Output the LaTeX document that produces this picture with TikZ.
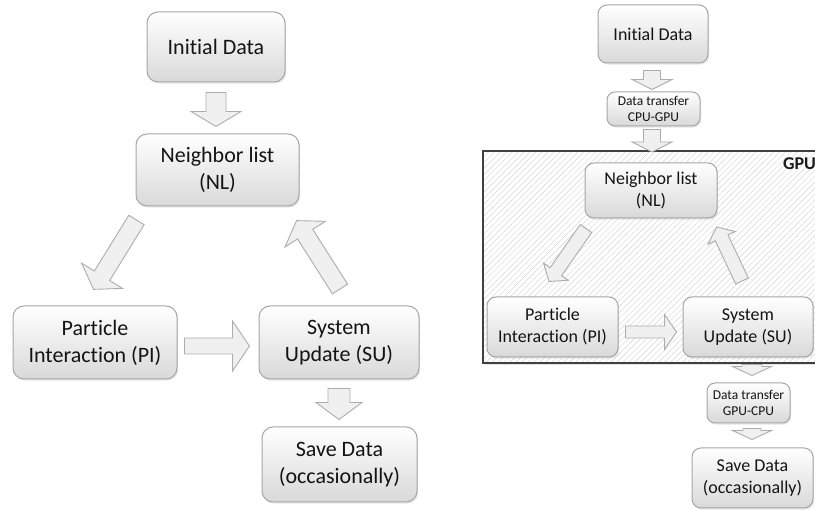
\documentclass[tikz,border=0pt]{standalone}
\usepackage{fontspec}
\setmainfont{Carlito}[Ligatures={NoCommon}]
\usetikzlibrary{calc,shadows,patterns.meta}

\tikzset{
  flowbox/.style={draw=gray!70, line width=1pt, rounded corners=11pt,
    top color=white, bottom color=gray!30, text=black!92, align=center,
    inner sep=0pt,
    drop shadow={shadow xshift=1.2pt, shadow yshift=-1.6pt, opacity=0.2}},
  bigtext/.style={font=\fontsize{22}{27}\selectfont},
  midtext/.style={font=\fontsize{18}{22}\selectfont, rounded corners=9pt},
  smalltext/.style={font=\fontsize{13.5}{16.5}\selectfont, rounded corners=8pt},
  blockarrow/.style={draw=gray!65, fill=gray!12, line width=0.9pt, line join=miter},
  gpubox/.style={fill=white, inner sep=0pt,
    drop shadow={shadow xshift=1.5pt, shadow yshift=-2pt, opacity=0.2},
    postaction={pattern={Lines[angle=45,distance=4.2pt,line width=0.45pt]},
                pattern color=gray!32},
    postaction={draw=black!75, line width=2pt}},
  gpulabel/.style={font=\fontsize{18}{22}\selectfont\bfseries, text=black!90,
    anchor=base west, inner sep=0pt},
}

% Block arrow from #1 to #2: shaft half-width #3, head half-width #4,
% head length #5 (all in pt)
\newcommand{\flowarrow}[5]{%
  \draw[blockarrow] let \p1=(#1), \p2=(#2),
      \n1={atan2((\y2)-(\y1),(\x2)-(\x1))},
      \n2={veclen((\x2)-(\x1),(\y2)-(\y1))} in
    [shift={(\p1)}, rotate=\n1]
    (0pt,{-#3*1pt}) -- ({(\n2-#5)*1pt},{-#3*1pt}) -- ({(\n2-#5)*1pt},{-#4*1pt})
    -- ({\n2*1pt},0pt) -- ({(\n2-#5)*1pt},{#4*1pt}) -- ({(\n2-#5)*1pt},{#3*1pt})
    -- (0pt,{#3*1pt}) -- cycle;}

\begin{document}
\begin{tikzpicture}[x=1pt,y=-1pt]
\useasboundingbox (0,0) rectangle (815,510);

% ---------- CPU-only loop ----------
\node[flowbox, bigtext, minimum width=138pt, minimum height=70pt] (init) at (216,47) {Initial Data};
\node[flowbox, bigtext, minimum width=163pt, minimum height=72pt] (nl) at (217.5,170) {Neighbor list\\(NL)};
\node[flowbox, bigtext, minimum width=164pt, minimum height=73pt] (pi) at (95,342.5) {Particle\\Interaction (PI)};
\node[flowbox, bigtext, minimum width=160pt, minimum height=73pt] (su) at (339,342.5) {System\\Update (SU)};
\node[flowbox, bigtext, minimum width=155pt, minimum height=75pt] (save) at (339.5,464.5) {Save Data\\(occasionally)};

\flowarrow{$(init.south)+(0,10)$}{$(nl.north)+(-1.5,-7)$}{10}{25}{15}
\flowarrow{$(nl.south west)+(1,13.5)$}{$(pi.north)+(-1.5,-16)$}{9}{24}{16}
\flowarrow{$(su.north)+(1,-16.5)$}{$(nl.south east)+(-3,14)$}{9}{24}{16}
\flowarrow{$(pi.east)+(7,3.5)$}{$(su.west)+(-9,3.5)$}{8}{25}{17}
\flowarrow{$(su.south)+(0,9)$}{$(save.north)+(-0.5,-7)$}{11}{23}{17}

% ---------- GPU version ----------
\node[gpubox, minimum width=345pt, minimum height=212pt, anchor=north west] (gpu) at (483,151) {};
\node[gpulabel] (gputxt) at (783,170) {GPU};

\node[flowbox, midtext, minimum width=110pt, minimum height=58pt] (init2) at (653,34) {Initial Data};
\node[flowbox, smalltext, minimum width=93pt, minimum height=34pt] (cg) at (653.5,109) {Data transfer\\CPU-GPU};
\node[flowbox, midtext, minimum width=132pt, minimum height=55pt] (nl2) at (651,190.5) {Neighbor list\\(NL)};
\node[flowbox, midtext, minimum width=131pt, minimum height=60pt] (pi2) at (552.5,327) {Particle\\Interaction (PI)};
\node[flowbox, midtext, minimum width=130pt, minimum height=60pt] (su2) at (748,327) {System\\Update (SU)};
\node[flowbox, smalltext, minimum width=83pt, minimum height=40pt] (gc) at (748.5,403) {Data transfer\\GPU-CPU};
\node[flowbox, midtext, minimum width=121pt, minimum height=60pt] (save2) at (752.5,478) {Save Data\\(occasionally)};

\flowarrow{$(init2.south)+(-1,7)$}{$(cg.north)+(-1.5,-2)$}{8.5}{20}{10}
\flowarrow{$(cg.south)+(-1.5,3)$}{$(cg.south |- gpu.north)+(-1.5,1)$}{8.5}{20}{10}
\flowarrow{$(nl2.south west)+(1.5,10)$}{$(pi2.north)+(-3.5,-15)$}{7}{15}{12}
\flowarrow{$(su2.north)+(-6,-15.5)$}{$(nl2.south east)+(-1,8.5)$}{7}{15}{12}
\flowarrow{$(pi2.east)+(7,5)$}{$(su2.west)+(-6,5)$}{6}{17.5}{12}
\flowarrow{$(su2.south)+(4,7)$}{$(gc.north)+(3.5,-7)$}{10}{19.5}{9}
\flowarrow{$(gc.south)+(3.5,5)$}{$(save2.north)+(-0.5,-8)$}{9}{19.5}{9}
\end{tikzpicture}
\end{document}
